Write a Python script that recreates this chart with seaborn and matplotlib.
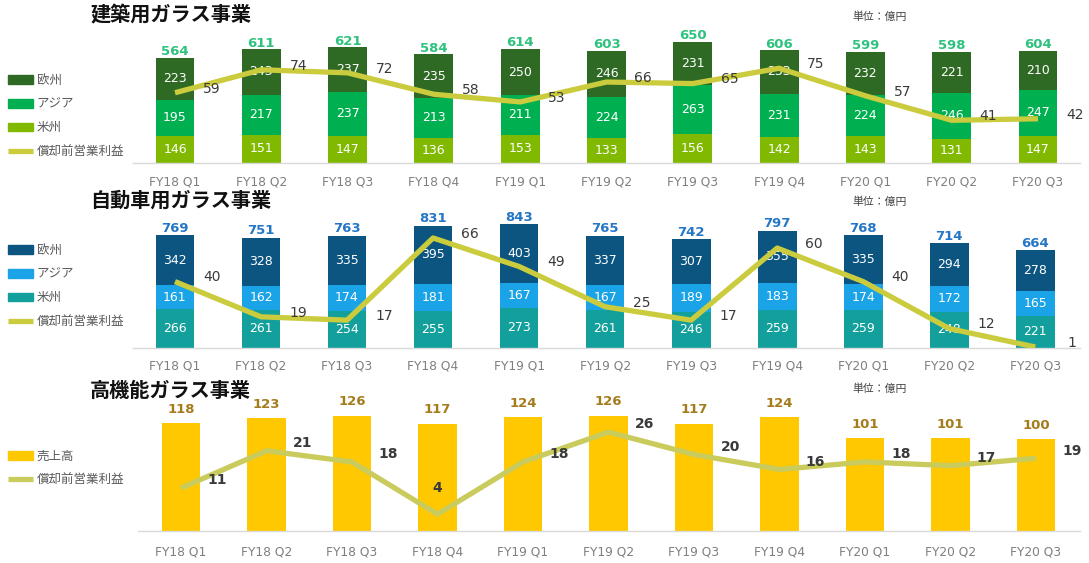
import numpy as np
import pandas as pd
import matplotlib
matplotlib.use("Agg")
import matplotlib.pyplot as plt
import seaborn as sns
from matplotlib.patches import Patch
from matplotlib.lines import Line2D

# ---------------- data ----------------
quarters = ["FY18 Q1", "FY18 Q2", "FY18 Q3", "FY18 Q4", "FY19 Q1", "FY19 Q2",
            "FY19 Q3", "FY19 Q4", "FY20 Q1", "FY20 Q2", "FY20 Q3"]

arch_europe = [223, 243, 237, 235, 250, 246, 231, 233, 232, 221, 210]
arch_asia = [195, 217, 237, 213, 211, 224, 263, 231, 224, 246, 247]
arch_america = [146, 151, 147, 136, 153, 133, 156, 142, 143, 131, 147]
arch_total = [564, 611, 621, 584, 614, 603, 650, 606, 599, 598, 604]
arch_ebitda = [59, 74, 72, 58, 53, 66, 65, 75, 57, 41, 42]

auto_europe = [342, 328, 335, 395, 403, 337, 307, 355, 335, 294, 278]
auto_asia = [161, 162, 174, 181, 167, 167, 189, 183, 174, 172, 165]
auto_america = [266, 261, 254, 255, 273, 261, 246, 259, 259, 248, 221]
auto_total = [769, 751, 763, 831, 843, 765, 742, 797, 768, 714, 664]
auto_ebitda = [40, 19, 17, 66, 49, 25, 17, 60, 40, 12, 1]

perf_sales = [118, 123, 126, 117, 124, 126, 117, 124, 101, 101, 100]
perf_ebitda = [11, 21, 18, 4, 18, 26, 20, 16, 18, 17, 19]

titles = ["建築用ガラス事業", "自動車用ガラス事業", "高機能ガラス事業"]
unit_label = "単位：億円"
region_labels = ["欧州", "アジア", "米州"]
sales_label = "売上高"
ebitda_label = "償却前営業利益"

# ---------------- style ----------------
sns.set_style("white")
plt.rcParams["font.family"] = ["DejaVu Sans", "Noto Sans CJK JP"]

W, H = 1089, 563
fig = plt.figure(figsize=(W / 100, H / 100), dpi=100)


def fx(px):
    return px / W


def fy(py):
    return 1 - py / H


TICK_COLOR = "#7f7f7f"
LINE_LABEL_COLOR = "#3a3a3a"
n = len(quarters)
xs = np.arange(n)


def style_axes(ax, xlim, ylim, pad):
    ax.set_xlim(*xlim)
    ax.set_ylim(*ylim)
    ax.set_yticks([])
    ax.set_xticks(xs)
    ax.set_xticklabels(quarters)
    ax.tick_params(axis="x", length=0, pad=pad, labelcolor=TICK_COLOR, labelsize=8.8)
    ax.set_xlabel("")
    ax.set_ylabel("")
    for s in ["top", "left", "right"]:
        ax.spines[s].set_visible(False)
    ax.spines["bottom"].set_color("#d9d9d9")
    ax.spines["bottom"].set_linewidth(1.0)
    ax.set_facecolor("none")


def draw_line(ax, values, ylim2, color, labels_bold, dx, dy, fsize, special=None):
    ax2 = ax.twinx()
    sns.lineplot(x=xs, y=values, ax=ax2, color=color, linewidth=3.8,
                 legend=False, solid_capstyle="butt")
    ax2.set_ylim(*ylim2)
    ax2.set_yticks([])
    ax2.set_ylabel("")
    for s in ax2.spines.values():
        s.set_visible(False)
    for i, v in enumerate(values):
        ox, oy = dx, dy
        if special is not None and special[i] == "above":
            ox, oy = 0, 19
        ax2.annotate(str(v), (i, v), xytext=(ox, oy), textcoords="offset points",
                     ha="center", va="center", fontsize=fsize,
                     fontweight="bold" if labels_bold else "medium",
                     color=LINE_LABEL_COLOR)
    return ax2


def stacked(ax, layers, colors, totals, total_color, total_off):
    # layers bottom -> top
    cum = np.cumsum(np.array(layers), axis=0)
    for k in range(len(layers) - 1, -1, -1):
        sns.barplot(x=quarters, y=cum[k], order=quarters, color=colors[k],
                    width=0.45, errorbar=None, saturation=1, ax=ax,
                    linewidth=0, edgecolor="none")
    for k in range(len(layers)):
        base = cum[k] - np.array(layers[k])
        for i, v in enumerate(layers[k]):
            ax.text(i, base[i] + v / 2, str(v), ha="center", va="center",
                    color="white", fontsize=9)
    for i, t in enumerate(totals):
        ax.annotate(str(t), (i, cum[-1][i]), xytext=(0, total_off),
                    textcoords="offset points", ha="center", va="center",
                    fontsize=9.5, fontweight="bold", color=total_color)


def legend(handles, labels, cy):
    fig.legend(handles, labels, loc="center left",
               bbox_to_anchor=(fx(8), fy(cy)), frameon=False, fontsize=9,
               handlelength=2.0, handletextpad=0.3, labelspacing=0.86,
               borderpad=0, borderaxespad=0, labelcolor="#595959")


line_color = "#cbcb3e"

# ---------------- panel 1 : architectural ----------------
c1 = ["#80b900", "#00b050", "#2f6a25"]
ax1 = fig.add_axes([fx(133), fy(163), fx(1080 - 133), (163 - 30) / H])
stacked(ax1, [arch_america, arch_asia, arch_europe], c1, arch_total, "#2ec27e", 4.5)
style_axes(ax1, (-0.487, 10.487), (0, 715), 9)
draw_line(ax1, arch_ebitda, (13.1, 100), line_color, False, 26.5, 3, 10)

# ---------------- panel 2 : automotive ----------------
c2 = ["#139f9b", "#1aa3e6", "#0b5580"]
ax2 = fig.add_axes([fx(133), fy(348), fx(1080 - 133), (348 - 215) / H])
stacked(ax2, [auto_america, auto_asia, auto_europe], c2, auto_total, "#2477c6", 5)
style_axes(ax2, (-0.488, 10.52), (0, 905), 8)
draw_line(ax2, auto_ebitda, (0.4, 79.7), line_color, False, 26.5, 3, 10)

# ---------------- panel 3 : performance ----------------
ax3 = fig.add_axes([fx(138), fy(531), fx(1080 - 138), (531 - 400) / H])
sns.barplot(x=quarters, y=perf_sales, order=quarters, color="#ffc800", width=0.45,
            errorbar=None, saturation=1, ax=ax3, linewidth=0, edgecolor="none")
for i, v in enumerate(perf_sales):
    ax3.annotate(str(v), (i, v), xytext=(0, 10), textcoords="offset points",
                 ha="center", va="center", fontsize=9.5, fontweight="bold",
                 color="#a57c1c")
style_axes(ax3, (-0.503, 10.515), (0, 143), 10.5)
label_pos3 = ["right"] * n
label_pos3[3] = "above"
draw_line(ax3, perf_ebitda, (-0.5, 34.6), "#c9cc5c", True, 26, 5.5, 10, label_pos3)

# ---------------- titles, units, legends ----------------
for t, y in zip(titles, [15, 200, 390]):
    fig.text(fx(90), fy(y), t, ha="left", va="center", fontsize=14.5,
             fontweight="bold", color="#111111", family="Noto Sans CJK JP")
for y in [17, 202, 389]:
    fig.text(fx(880), fy(y), unit_label, ha="center", va="center", fontsize=7.8,
             color="#404040", family="Noto Sans CJK JP")

line_handle = lambda c: Line2D([0], [0], color=c, linewidth=3.8, solid_capstyle="butt")
legend([Patch(color=c1[2]), Patch(color=c1[1]), Patch(color=c1[0]), line_handle(line_color)],
       region_labels + [ebitda_label], 116)
legend([Patch(color=c2[2]), Patch(color=c2[1]), Patch(color=c2[0]), line_handle(line_color)],
       region_labels + [ebitda_label], 286)
legend([Patch(color="#ffc800"), line_handle("#c9cc5c")], [sales_label, ebitda_label], 468)

fig.savefig("out.png", dpi=100)
